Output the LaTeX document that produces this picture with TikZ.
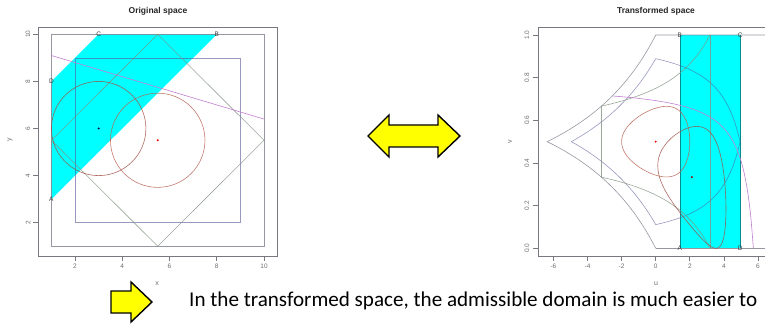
\documentclass[tikz,border=0pt]{standalone}
\usepackage{fontspec}
\setmainfont{Liberation Sans}
\newfontfamily\calibri{Carlito}
\definecolor{framecol}{RGB}{120,120,128}
\definecolor{outercol}{RGB}{125,125,140}
\definecolor{innercol}{RGB}{85,85,150}
\definecolor{diamcol}{RGB}{130,145,130}
\definecolor{circcol}{RGB}{185,100,85}
\definecolor{circcolb}{RGB}{160,80,70}
\definecolor{purpcol}{RGB}{195,125,210}
\definecolor{tickcol}{RGB}{110,110,110}
\definecolor{cyanrgb}{RGB}{0,255,255}
\definecolor{arrowyellow}{RGB}{255,255,0}
\begin{document}
\begin{tikzpicture}[x=1pt,y=1pt,
  declare function={tu(\a,\b)=(\b-\a)/1.414214; tv(\a,\b)=(\a-1)/(\a+9-\b);},
  frame/.style={draw=framecol, line width=0.7pt},
  ticklab/.style={font=\fontsize{6.5}{7}\selectfont, text=tickcol, inner sep=0pt},
  axlab/.style={font=\fontsize{7}{8}\selectfont, text=tickcol, inner sep=0pt},
  plottitle/.style={font=\bfseries\fontsize{8.5}{10}\selectfont, text=black!85, inner sep=0pt},
  cyanfill/.style={fill=cyanrgb},
  outersq/.style={draw=outercol, line width=0.6pt, opacity=0.8},
  innersq/.style={draw=innercol, line width=0.6pt, opacity=0.6},
  diam/.style={draw=diamcol, line width=0.6pt, opacity=0.8},
  circ/.style={draw=circcol, line width=0.6pt, opacity=0.85},
  circb/.style={draw=circcolb, line width=0.6pt, opacity=0.85},
  purp/.style={draw=purpcol, line width=0.6pt},
  ptlab/.style={font=\fontsize{6.5}{7}\selectfont, text=black!75, inner sep=0pt},
  yarrow/.style={fill=arrowyellow, draw=black, line width=1.4pt, line join=miter},
  msg/.style={font=\calibri\fontsize{21.1}{25}\selectfont, inner sep=0pt, anchor=west}
]
\clip (0,0) rectangle (765,324);
\useasboundingbox (0,0) rectangle (765,324);

% ---------------- left plot ----------------
\begin{scope}[shift={(27.775pt,54.2pt)}, x=23.625pt, y=23.55pt]
  \fill[cyanfill] (1,3) -- (1,8) -- (3,10) -- (8,10) -- cycle;
  \draw[outersq] (1,1) rectangle (10,10);
  \draw[innersq] (2,2) rectangle (9,9);
  \draw[diam] (5.5,10) -- (10,5.5) -- (5.5,1) -- (1,5.5) -- cycle;
  \draw[circb] (3,6) circle[radius=2];
  \draw[circ] (5.5,5.5) circle[radius=2];
  \draw[purp] (1,9.1) -- (10,6.4);
  \fill[black!80!blue] (3,6) circle[radius=1.1pt];
  \fill[red] (5.5,5.5) circle[radius=1.1pt];
  \node[ptlab] (lA) at (1,3) {A};
  \node[ptlab] (lB) at (8,10) {B};
  \node[ptlab] (lC) at (3,10) {C};
  \node[ptlab] (lD) at (1,8) {D};
\end{scope}
\draw[frame] (38,68) rectangle (277,297);
\foreach \k in {2,4,6,8,10} {
  \draw[frame] ({27.775+23.625*\k},68) -- ++(0,-5);
  \node[ticklab] (lxt\k) at ({27.775+23.625*\k},57.5) {\k};
  \draw[frame] (38,{54.2+23.55*\k}) -- ++(-5,0);
  \node[ticklab, rotate=90] (lyt\k) at (28,{54.2+23.55*\k}) {\k};
}
\node[axlab] (xlab) at (157,40) {x};
\node[axlab, rotate=90] (ylab) at (10,184) {y};
\node[plottitle] (t1) at (158,313) {Original space};

% ---------------- right plot ----------------
\begin{scope}[shift={(655.7pt,75.7pt)}, x=17.05pt, y=213.3pt]
  \fill[cyanfill] (1.414214,0) rectangle (4.949747,1);
  \draw[draw=cyanrgb!55!black, line width=0.5pt] (1.414214,0) -- (1.414214,1);
  \draw[draw=cyanrgb!55!black, line width=0.5pt] (4.949747,0) -- (4.949747,1);
  % outer square image
  \draw[outersq] plot[domain=1:10, samples=40, variable=\t] ({tu(\t,1)},{tv(\t,1)})
     -- plot[domain=1:10, samples=40, variable=\t] ({tu(10,\t)},{tv(10,\t)}) -- (6.4,1);
  \draw[outersq] (0,0) -- (6.4,0);
  % inner square image
  \draw[innersq] plot[domain=2:9, samples=40, variable=\t] ({tu(\t,2)},{tv(\t,2)})
     -- plot[domain=2:9, samples=40, variable=\t] ({tu(9,\t)},{tv(9,\t)})
     -- plot[domain=9:2, samples=40, variable=\t] ({tu(\t,9)},{tv(\t,9)})
     -- plot[domain=9:2, samples=40, variable=\t] ({tu(2,\t)},{tv(2,\t)});
  % diamond image
  \draw[diam] (3.181981,0) -- (3.181981,1);
  \draw[diam] (-3.181981,0.333333) -- (-3.181981,0.666667);
  \draw[diam] plot[domain=1:5.5, samples=40, variable=\t] ({tu(\t,6.5-\t)},{tv(\t,6.5-\t)});
  \draw[diam] plot[domain=5.5:10, samples=40, variable=\t] ({tu(\t,15.5-\t)},{tv(\t,15.5-\t)});
  % circles image
  \draw[circb] plot[domain=0:360, samples=120, smooth, variable=\t]
     ({tu(3+2*cos(\t),6+2*sin(\t))},{tv(3+2*cos(\t),6+2*sin(\t))}) -- cycle;
  \draw[circ] plot[domain=0:360, samples=120, smooth, variable=\t]
     ({tu(5.5+2*cos(\t),5.5+2*sin(\t))},{tv(5.5+2*cos(\t),5.5+2*sin(\t))}) -- cycle;
  % line image
  \draw[purp] plot[domain=1:10, samples=60, smooth, variable=\t] ({tu(\t,9.4-0.3*\t)},{tv(\t,9.4-0.3*\t)});
  \fill[red] (0,0.5) circle[radius=1.1pt];
  \fill[red!60!black] (2.121320,0.333333) circle[radius=1.1pt];
  \node[ptlab] (rA) at (1.414214,0) {A};
  \node[ptlab] (rB) at (1.414214,1) {B};
  \node[ptlab] (rC) at (4.949747,1) {C};
  \node[ptlab] (rD) at (4.949747,0) {D};
\end{scope}
\draw[frame] (538,68) rectangle (776,297);
\foreach \k in {-6,-4,-2,0,2,4,6} {
  \draw[frame] ({655.7+17.05*\k},68) -- ++(0,-5);
  \node[ticklab] (rut\k) at ({655.7+17.05*\k},57.5) {\k};
}
\foreach \k/\lab in {0/0.0,1/0.2,2/0.4,3/0.6,4/0.8,5/1.0} {
  \draw[frame] (538,{75.7+42.66*\k}) -- ++(-5,0);
  \node[ticklab, rotate=90] (rvt\k) at (527,{75.7+42.66*\k}) {\lab};
}
\node[axlab] (ulab) at (656,40) {u};
\node[axlab, rotate=90] (vlab) at (510,182) {v};
\node[plottitle] (t2) at (656,313) {Transformed space};

% ---------------- arrows and message ----------------
\draw[yarrow] (368,188) -- (389,209) -- (389,199) -- (438,199) -- (438,209) -- (460,188)
   -- (438,167) -- (438,177) -- (389,177) -- (389,167) -- cycle;
\draw[yarrow] (111,33) -- (131,33) -- (131,42) -- (152,22) -- (131,2) -- (131,11) -- (111,11) -- cycle;
\node[msg] (message) at (189,23) {In the transformed space, the admissible domain is much easier to};
\end{tikzpicture}
\end{document}
